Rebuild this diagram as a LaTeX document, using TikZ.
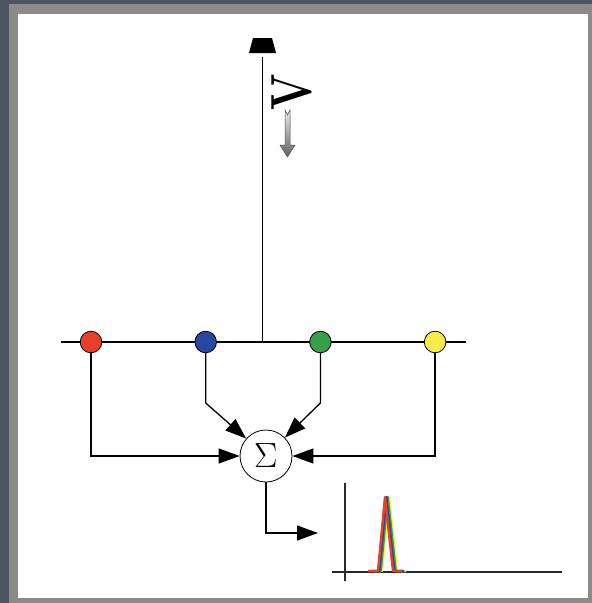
\documentclass[tikz,border=0pt]{standalone}
\usepackage{graphicx}
\usetikzlibrary{arrows.meta, positioning, shapes.geometric}
\definecolor{colBg}{RGB}{78,84,98}
\definecolor{colFrame}{RGB}{141,138,138}
\definecolor{colRed}{RGB}{232,64,40}
\definecolor{colBlue}{RGB}{40,72,158}
\definecolor{colGreen}{RGB}{56,160,72}
\definecolor{colYellow}{RGB}{248,236,72}
\definecolor{colAxis}{RGB}{40,40,40}

\begin{document}
\begin{tikzpicture}[
  x=1pt, y=-1pt,
  node distance=92.3pt,
  sensor/.style={circle, draw, line width=0.8pt, minimum size=21.6pt, inner sep=0pt},
  summer/.style={circle, draw, line width=0.8pt, minimum size=52pt, inner sep=0pt,
                 fill=white, font=\fontsize{35}{40}\selectfont},
  wire/.style={line width=1.3pt},
  arr/.style={wire, -{Triangle[length=21pt, width=15pt]}},
  axis/.style={line width=1.6pt, colAxis},
  trace/.style={line width=2.4pt, line join=round},
]
\useasboundingbox (0,0) rectangle (592,603);

% Slide background
\fill[colBg] (0,0) rectangle (592,603);
\fill[colFrame] (9,4) rectangle (592,603);
\fill[white] (18,14) rectangle (588,598);

% Source and wave
\fill (253,38) -- (272,38) -- (276,53) -- (249,53) -- cycle;
\coordinate (lamp) at (262.3,57);
\node[rotate=90, inner sep=0pt, font=\fontsize{58}{60}\selectfont\bfseries] (wave) at (292,92)
  {\scalebox{0.74}[1]{V}};
\shade[top color=gray!15, bottom color=gray!75!black, draw=gray!60!black, line width=0.5pt]
  (285,110) -- (287.5,115) -- (290,110) -- (290,145) -- (295,145)
  -- (287.5,157) -- (280,145) -- (285,145) -- cycle;

% Bus
\coordinate (busL) at (61,342);
\coordinate (busR) at (466,342);
\coordinate (tap) at (262.3,342);
\draw[wire] (busL) -- (busR);
\draw[wire] (lamp) -- (tap);

% Sensors
\node[sensor, fill=colRed] (s1) at (91,342) {};
\node[sensor, fill=colBlue, right=of s1] (s2) {};
\node[sensor, fill=colGreen, right=of s2] (s3) {};
\node[sensor, fill=colYellow, right=of s3] (s4) {};

% Summing node
\node[summer] (sum) at (266,456) {Σ};

% Feeds into the sum
\coordinate (kinkB) at ([yshift=-61pt]s2.center);
\coordinate (kinkG) at ([yshift=-61pt]s3.center);
\draw[arr] (s1) |- (sum);
\draw[arr] (s4) |- (sum);
\draw[arr] (s2) -- (kinkB) -- (sum);
\draw[arr] (s3) -- (kinkG) -- (sum);

% Output
\coordinate (out) at (318,533);
\draw[arr] (sum) |- (out);

% Output plot
\draw[axis] (332,572) -- (562,572);
\draw[axis] (345,483) -- (345,581);
\foreach \dx/\c in {4/colYellow, 2.7/colGreen, 1.3/colBlue, 0/colRed}
  \draw[trace, \c, xshift=\dx pt]
    (368,571) -- (378,571) -- (385,497) -- (393,571) -- (402,571);

\end{tikzpicture}
\end{document}
